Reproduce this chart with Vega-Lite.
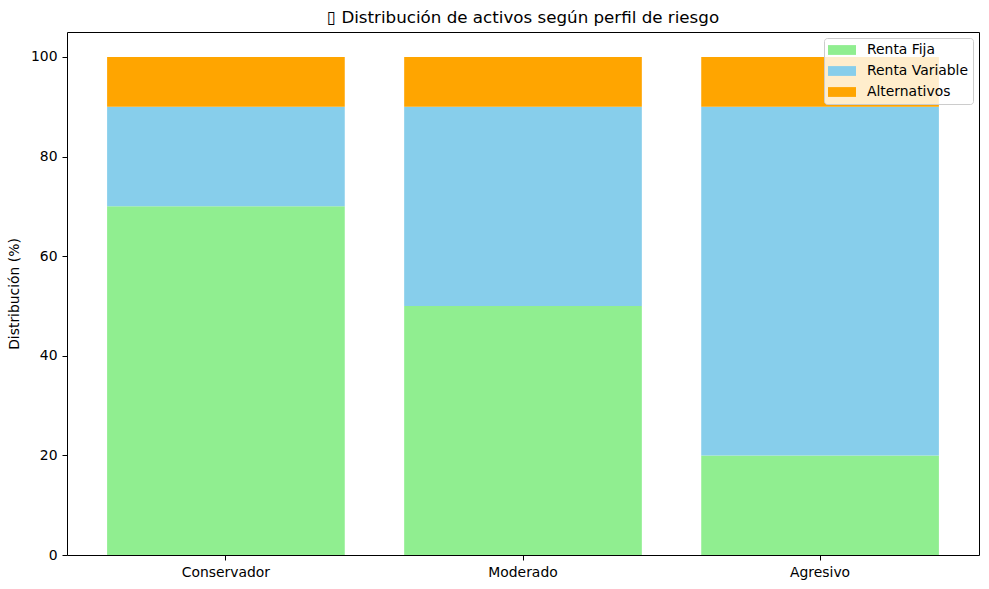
{
  "$schema": "https://vega.github.io/schema/vega-lite/v6.json",
  "width": 912,
  "height": 523,
  "autosize": {"type": "none"},
  "padding": {"left": 67, "top": 32, "right": 10, "bottom": 34},
  "background": "white",
  "title": {
    "text": "▯ Distribución de activos según perfil de riesgo",
    "font": "DejaVu Sans",
    "fontSize": 16.7,
    "fontWeight": "normal",
    "color": "black",
    "anchor": "middle",
    "frame": "group",
    "offset": 5
  },
  "config": {
    "font": "DejaVu Sans",
    "view": {"stroke": "black", "strokeWidth": 1},
    "axis": {
      "labelFont": "DejaVu Sans",
      "labelFontSize": 13.9,
      "labelColor": "black",
      "titleFont": "DejaVu Sans",
      "titleFontSize": 13.9,
      "titleFontWeight": "normal",
      "titleColor": "black",
      "tickColor": "black",
      "tickSize": 5,
      "domainColor": "black",
      "grid": false,
      "labelPadding": 5
    }
  },
  "data": {
    "values": [
      {"perfil": "Conservador", "tipo": "Renta Fija", "orden": 1, "valor": 70},
      {"perfil": "Conservador", "tipo": "Renta Variable", "orden": 2, "valor": 20},
      {"perfil": "Conservador", "tipo": "Alternativos", "orden": 3, "valor": 10},
      {"perfil": "Moderado", "tipo": "Renta Fija", "orden": 1, "valor": 50},
      {"perfil": "Moderado", "tipo": "Renta Variable", "orden": 2, "valor": 40},
      {"perfil": "Moderado", "tipo": "Alternativos", "orden": 3, "valor": 10},
      {"perfil": "Agresivo", "tipo": "Renta Fija", "orden": 1, "valor": 20},
      {"perfil": "Agresivo", "tipo": "Renta Variable", "orden": 2, "valor": 70},
      {"perfil": "Agresivo", "tipo": "Alternativos", "orden": 3, "valor": 10}
    ]
  },
  "mark": {"type": "bar"},
  "encoding": {
    "x": {
      "field": "perfil",
      "type": "nominal",
      "sort": ["Conservador", "Moderado", "Agresivo"],
      "scale": {"paddingInner": 0.2, "paddingOuter": 0.135},
      "axis": {"title": null, "labelAngle": 0, "domain": false}
    },
    "y": {
      "field": "valor",
      "type": "quantitative",
      "stack": "zero",
      "scale": {"domain": [0, 105], "nice": false},
      "axis": {"title": "Distribución (%)", "values": [0, 20, 40, 60, 80, 100], "titlePadding": 9, "domain": false}
    },
    "color": {
      "field": "tipo",
      "type": "nominal",
      "sort": ["Renta Fija", "Renta Variable", "Alternativos"],
      "scale": {
        "domain": ["Renta Fija", "Renta Variable", "Alternativos"],
        "range": ["#90EE90", "#87CEEB", "#FFA500"]
      },
      "legend": {
        "title": null,
        "orient": "top-right",
        "offset": 6,
        "symbolType": "M-2,-0.7H2V0.7H-2Z",
        "symbolSize": 196,
        "symbolOffset": 6,
        "symbolStrokeWidth": 0,
        "symbolOpacity": 1,
        "labelFont": "DejaVu Sans",
        "labelFontSize": 13.9,
        "labelColor": "black",
        "labelOffset": 18,
        "rowPadding": 7,
        "padding": 5,
        "fillColor": "rgba(255,255,255,0.8)",
        "strokeColor": "#cccccc",
        "cornerRadius": 3
      }
    },
    "order": {"field": "orden", "type": "quantitative"}
  }
}
